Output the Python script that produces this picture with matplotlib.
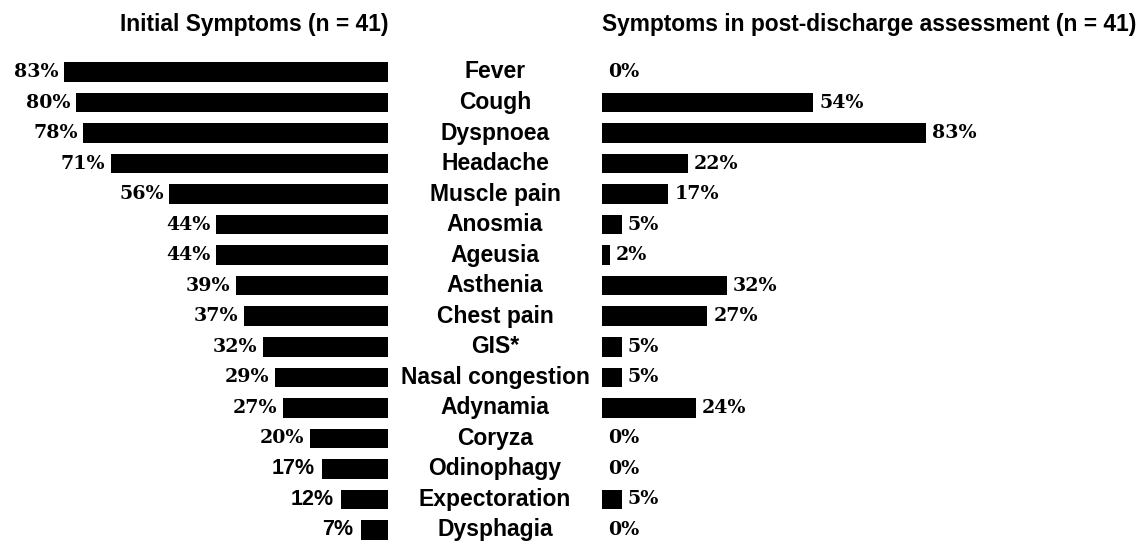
import matplotlib.pyplot as plt

symptoms = ['Fever', 'Cough', 'Dyspnoea', 'Headache', 'Muscle pain', 'Anosmia',
            'Ageusia', 'Asthenia', 'Chest pain', 'GIS*', 'Nasal congestion',
            'Adynamia', 'Coryza', 'Odinophagy', 'Expectoration', 'Dysphagia']
initial = [83, 80, 78, 71, 56, 44, 44, 39, 37, 32, 29, 27, 20, 17, 12, 7]
post = [0, 54, 83, 22, 17, 5, 2, 32, 27, 5, 5, 24, 0, 0, 5, 0]
# the last three left-hand labels are set in a sans font in the original
sans_left = ['Odinophagy', 'Expectoration', 'Dysphagia']

W, H = 1142, 542
fig = plt.figure(figsize=(W / 100, H / 100), dpi=100)

px_per_pct = 3.904
row0, step = 72, 30.53
ytop = -row0 / step
ybot = (H - row0) / step

x_left0 = 388
x_right0 = 602

axl = fig.add_axes([0, 0, x_left0 / W, 1])
axr = fig.add_axes([x_right0 / W, 0, (W - x_right0) / W, 1])

axl.set_xlim(x_left0 / px_per_pct, 0)
axr.set_xlim(0, (W - x_right0) / px_per_pct)

ypos = list(range(len(symptoms)))
for ax in (axl, axr):
    ax.set_ylim(ybot, ytop)
    ax.axis('off')

axl.barh(ypos, initial, height=0.64, color='black')
axr.barh(ypos, post, height=0.64, color='black')

for i, (name, v) in enumerate(zip(symptoms, initial)):
    if name in sans_left:
        fp = dict(family='Liberation Sans', fontsize=15.5)
        off = -5
    else:
        fp = dict(family='DejaVu Serif', fontsize=13.7)
        off = -4
    axl.annotate(f'{v}%', (v, i), xytext=(off, 0), textcoords='offset points',
                 ha='right', va='center', fontweight='bold', **fp)

for i, v in enumerate(post):
    axr.annotate(f'{v}%', (v, i), xytext=(4.5, 0), textcoords='offset points',
                 ha='left', va='center', fontweight='bold',
                 family='DejaVu Serif', fontsize=13.7)

xc = (x_left0 + x_right0) / 2 / W
for i, name in enumerate(symptoms):
    yf = 1 - (row0 + step * i) / H
    fig.text(xc, yf, name, ha='center', va='center', fontsize=16.5,
             fontweight='bold', family='Liberation Sans')

ty = 1 - 24 / H
fig.text(x_left0 / W, ty, 'Initial Symptoms (n = 41)', ha='right', va='center',
         fontsize=16.4, fontweight='bold', family='Liberation Sans')
fig.text(x_right0 / W, ty, 'Symptoms in post-discharge assessment (n = 41)',
         ha='left', va='center', fontsize=16.4, fontweight='bold',
         family='Liberation Sans')

fig.savefig('out.png', dpi=100)
